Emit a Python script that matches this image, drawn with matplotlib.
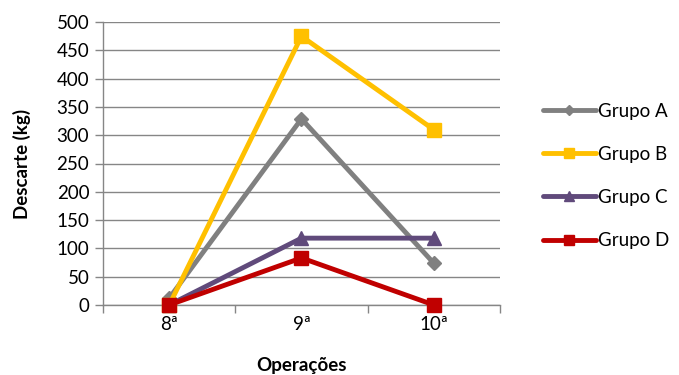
import matplotlib
matplotlib.use("Agg")
import matplotlib.pyplot as plt
from matplotlib.lines import Line2D

categories = ["8ª", "9ª", "10ª"]
series_names = ["Grupo A", "Grupo B", "Grupo C", "Grupo D"]
grupo_a = [12, 329, 74]
grupo_b = [0, 475, 310]
grupo_c = [0, 118, 118]
grupo_d = [0, 83, 0]
yticks = [0, 50, 100, 150, 200, 250, 300, 350, 400, 450, 500]

plt.rcParams['font.family'] = ['Lato', 'DejaVu Sans']

fig = plt.figure(figsize=(6.79, 3.75), dpi=100)
ax = fig.add_axes([0.152, 0.187, 0.584, 0.754])

styles = [
    (grupo_a, "#808080", "D", 7),
    (grupo_b, "#FFC000", "s", 10),
    (grupo_c, "#604A7B", "^", 10),
    (grupo_d, "#C00000", "s", 10),
]
x = list(range(len(categories)))
handles = []
for (vals, color, m, ms), name in zip(styles, series_names):
    ax.plot(x, vals, color=color, lw=3.5, marker=m, markersize=ms,
            markeredgecolor=color, solid_capstyle='round', clip_on=False, zorder=3)
    handles.append(Line2D([0], [0], color=color, lw=3.5, marker=m,
                          markersize=ms * 0.7, markeredgecolor=color,
                          solid_capstyle='round', label=name))

ax.set_xlim(-0.5, 2.5)
ax.set_ylim(0, 500)
ax.set_yticks(yticks)
ax.set_xticks(x)
ax.set_xticklabels(categories)
ax.set_xticks([-0.5, 0.5, 1.5, 2.5], minor=True)
ax.tick_params(axis='x', which='major', length=0, labelsize=13.5, pad=8)
ax.tick_params(axis='x', which='minor', length=6, color='#868686', width=1)
ax.tick_params(axis='y', length=6, color='#868686', width=1, labelsize=13.5, pad=4)
ax.yaxis.grid(True, color='#868686', lw=1)
ax.set_axisbelow(True)
for s in ['top', 'right']:
    ax.spines[s].set_visible(False)
for s in ['left', 'bottom']:
    ax.spines[s].set_color('#868686')
    ax.spines[s].set_linewidth(1)

ax.set_ylabel("Descarte (kg)", fontsize=13.5, fontweight='bold', labelpad=18)
ax.set_xlabel("Operações", fontsize=13.5, fontweight='bold', labelpad=17)

fig.legend(handles=handles, loc='center left', bbox_to_anchor=(0.775, 0.531),
           frameon=False, fontsize=13.5, handlelength=2.8, handletextpad=0.15,
           labelspacing=1.4)

fig.savefig("out.png", dpi=100)
